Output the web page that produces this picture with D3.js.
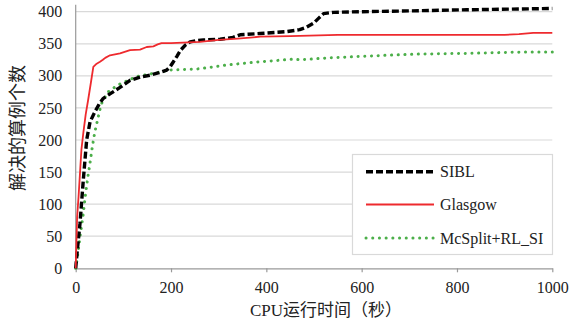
<!DOCTYPE html>
<html>
<head>
<meta charset="utf-8">
<script src="https://cdn.jsdelivr.net/npm/d3@7"></script>
<style>
  body { margin: 0; background: #fff; }
  text { font-family: "Liberation Serif", "Times New Roman", serif; fill: #222; }
  .cjk { font-family: "Liberation Serif", "Noto Sans CJK SC", serif; }
</style>
</head>
<body>
<div id="chart"></div>
<script>
// series names (legend order)
const seriesNames = ["SIBL", "Glasgow", "McSplit+RL_SI"];

// SIBL (black dashed)
const siblX = [0, 3, 9, 16, 23, 30, 37, 44, 50, 58, 72, 93, 114, 135, 156, 175, 191, 198, 205, 212, 220, 230, 240, 255, 268, 303, 330, 345, 387, 443, 470, 485, 499, 510, 520, 541, 600, 681, 820, 1000];
const siblY = [0, 25, 70, 138, 200, 228, 239, 249, 257, 265, 272, 282, 293, 298, 301, 305, 309, 314, 322, 330, 340, 348, 353, 355, 356, 357, 360, 364, 366, 369, 372, 376, 382, 390, 397, 399, 400, 401, 403, 405];

// Glasgow (red)
const glasgowX = [0, 3, 6, 12, 16, 21, 26, 32, 37, 44, 51, 57, 62, 72, 93, 114, 135, 149, 163, 172, 180, 200, 261, 300, 340, 387, 450, 550, 700, 900, 930, 960, 1000];
const glasgowY = [0, 80, 112, 185, 211, 240, 262, 290, 314, 319, 322, 325, 328, 332, 335, 340, 341, 345, 346, 349, 351, 351, 353, 356, 358, 361, 362, 364, 364, 364, 365, 367, 367];

// McSplit+RL_SI (green dotted)
const mcsplitX = [0, 5, 9, 15, 20, 25, 30, 35, 40, 44, 51, 55, 68, 89, 128, 156, 198, 233, 260, 317, 387, 457, 471, 530, 589, 650, 723, 820, 932, 1000];
const mcsplitY = [0, 25, 49, 80, 112, 140, 164, 190, 212, 225, 248, 258, 275, 286, 299, 303, 309, 310, 311, 317, 322, 326, 325, 328, 330, 332, 334, 335, 337, 337];

// axis ticks
const xTicks = [0, 200, 400, 600, 800, 1000];
const yTicks = [0, 50, 100, 150, 200, 250, 300, 350, 400];

const W = 569, H = 323;
const margin = { left: 75.7, right: 569 - 552.3, top: 11.7, bottom: 323 - 268.3 };
const innerW = W - margin.left - margin.right;
const innerH = H - margin.top - margin.bottom;

const svg = d3.select("#chart").append("svg")
    .attr("width", W)
    .attr("height", H);

const g = svg.append("g")
    .attr("transform", "translate(" + margin.left + "," + margin.top + ")");

const x = d3.scaleLinear().domain([0, 1000]).range([0, innerW]);
const y = d3.scaleLinear().domain([0, 400]).range([innerH, 0]);

// gridlines
g.append("g")
    .selectAll("line")
    .data(yTicks.filter(d => d > 0))
    .enter().append("line")
    .attr("x1", 0)
    .attr("x2", innerW)
    .attr("y1", d => y(d))
    .attr("y2", d => y(d))
    .attr("stroke", "#d9d9d9")
    .attr("stroke-width", 1.2);

// y axis line
g.append("line")
    .attr("x1", 0).attr("x2", 0)
    .attr("y1", -7).attr("y2", innerH)
    .attr("stroke", "#9a9a9a")
    .attr("stroke-width", 1.2);

// y tick labels
g.append("g")
    .selectAll("text")
    .data(yTicks)
    .enter().append("text")
    .attr("x", -13.5)
    .attr("y", d => y(d))
    .attr("dy", "0.35em")
    .attr("text-anchor", "end")
    .style("font-size", "16px")
    .text(d => d);

// x axis
const xAxis = d3.axisBottom(x)
    .tickValues(xTicks)
    .tickFormat(d3.format("d"))
    .tickSize(4)
    .tickPadding(9)
    .tickSizeOuter(0);

const xg = g.append("g")
    .attr("transform", "translate(0," + innerH + ")")
    .call(xAxis);
xg.attr("font-family", null);
xg.select(".domain").attr("stroke", "#9a9a9a").attr("stroke-width", 1.2);
xg.selectAll(".tick line").attr("stroke", "#9a9a9a").attr("stroke-width", 1.2);
xg.selectAll(".tick text")
    .style("font-size", "16px")
    .attr("fill", "#222");

// axis titles
svg.append("text")
    .attr("class", "cjk")
    .attr("x", margin.left + innerW / 2 + 12)
    .attr("y", 316)
    .attr("text-anchor", "middle")
    .style("font-size", "17px")
    .text("CPU运行时间（秒）");

svg.append("text")
    .attr("class", "cjk")
    .attr("transform", "translate(24,128) rotate(-90)")
    .attr("text-anchor", "middle")
    .style("font-size", "18px")
    .text("解决的算例个数");

// lines
const line = d3.line()
    .x(d => x(d[0]))
    .y(d => y(d[1]));

const styles = [
    { color: "#000000", width: 3.4, dash: "7,3", cap: "butt" },
    { color: "#ee2a2e", width: 1.8, dash: null, cap: "butt" },
    { color: "#4caf4a", width: 3, dash: "0.1,6.6", cap: "round" }
];

const seriesData = [
    d3.zip(siblX, siblY),
    d3.zip(glasgowX, glasgowY),
    d3.zip(mcsplitX, mcsplitY)
];

// green under, then black, red on top
const drawOrder = [2, 0, 1];
drawOrder.forEach(i => {
    g.append("path")
        .datum(seriesData[i])
        .attr("fill", "none")
        .attr("stroke", styles[i].color)
        .attr("stroke-width", styles[i].width)
        .attr("stroke-dasharray", styles[i].dash)
        .attr("stroke-linecap", styles[i].cap)
        .attr("stroke-linejoin", "round")
        .attr("d", line);
});

// legend
const legend = svg.append("g");
legend.append("rect")
    .attr("x", 352.5)
    .attr("y", 154.5)
    .attr("width", 200)
    .attr("height", 100)
    .attr("fill", "#fff")
    .attr("stroke", "#d9d9d9")
    .attr("stroke-width", 1.2);

const legendY = [171.7, 204.5, 238];
seriesNames.forEach((name, i) => {
    legend.append("line")
        .attr("x1", 366)
        .attr("x2", 434)
        .attr("y1", legendY[i])
        .attr("y2", legendY[i])
        .attr("stroke", styles[i].color)
        .attr("stroke-width", styles[i].width)
        .attr("stroke-dasharray", styles[i].dash)
        .attr("stroke-linecap", styles[i].cap);
    legend.append("text")
        .attr("x", 440)
        .attr("y", legendY[i])
        .attr("dy", "0.35em")
        .style("font-size", "16px")
        .text(name);
});
</script>
</body>
</html>
